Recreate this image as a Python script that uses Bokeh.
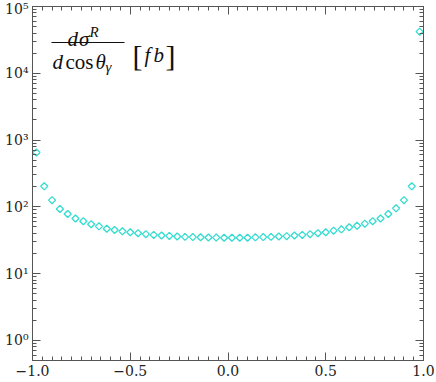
import math
from bokeh.plotting import figure
from bokeh.models import (LinearAxis, LogAxis, FixedTicker, CustomJSTickFormatter,
                          Range1d)
from bokeh.core.properties import value
from bokeh.embed import file_html
from bokeh.resources import INLINE

# ---- data ----
cos_theta = [round(-0.98 + 0.04 * i, 2) for i in range(50)]
dsigma = [650, 203, 126, 93, 78, 67, 61, 55, 51, 47,
          45, 43, 41.7, 40.3, 39, 38, 37.2, 36.7, 35.9, 35.5,
          35.2, 35.0, 34.7, 34.6, 34.5,
          34.5, 34.5, 34.5, 34.9, 35.2, 35.5, 35.9, 36.4, 37.2, 38,
          39, 40.3, 41.7, 44, 46, 49.4, 52, 56, 61, 67,
          78, 95, 126, 203, 42000]

x_ticks = [-1.0, -0.5, 0.0, 0.5, 1.0]
x_tick_labels = ["\u22121.0", "\u22120.5", "0.0", "0.5", "1.0"]
x_minor = [round(-1.0 + 0.05 * i, 2) for i in range(41)]
y_ticks = [1, 10, 100, 1000, 10000, 100000]
y_tick_labels = ["10\u2070", "10\u00b9", "10\u00b2", "10\u00b3", "10\u2074", "10\u2075"]
y_minor = [m * 10 ** k for k in range(-1, 5) for m in range(2, 10)]

X0, X1 = -1.0, 1.0
Y0, Y1 = 0.5, 1e5

W, H = 436, 380
BL, BR, BT, BB = 32, 13, 6, 20
FW, FH = W - BL - BR, H - BT - BB

AX = "#555555"
FONT = "'DejaVu Serif', serif"
TFONT = "'Liberation Serif', serif"

p = figure(width=W, height=H, output_backend="svg", toolbar_location=None,
           y_axis_type="log", x_range=Range1d(X0, X1), y_range=Range1d(Y0, Y1),
           min_border_left=BL, min_border_right=BR, min_border_top=BT,
           min_border_bottom=BB, background_fill_color="white",
           border_fill_color="white")
p.grid.visible = False
p.outline_line_color = AX
p.outline_line_width = 1

xfmt = CustomJSTickFormatter(args=dict(t=x_ticks, l=x_tick_labels), code="""
const i = t.findIndex(v => Math.abs(v - tick) < 1e-9); return i >= 0 ? l[i] : '';""")
yfmt = CustomJSTickFormatter(args=dict(t=y_ticks, l=y_tick_labels), code="""
const i = t.findIndex(v => Math.abs(v - tick) < 1e-6 * v); return i >= 0 ? l[i] : '';""")
blank = CustomJSTickFormatter(code="return '';")

def style(ax, fmt):
    ax.formatter = fmt
    ax.axis_line_color = AX
    ax.major_tick_line_color = AX
    ax.minor_tick_line_color = AX
    ax.major_tick_in = 8
    ax.major_tick_out = 0
    ax.minor_tick_in = 4
    ax.minor_tick_out = 0
    ax.major_label_text_font = FONT
    ax.major_label_text_font_size = "14px"
    ax.major_label_text_color = "#222222"
    ax.major_label_standoff = 4

xt = FixedTicker(ticks=x_ticks, minor_ticks=x_minor)
yt = FixedTicker(ticks=y_ticks, minor_ticks=y_minor)

p.xaxis[0].ticker = xt
style(p.xaxis[0], xfmt)
p.yaxis[0].ticker = yt
style(p.yaxis[0], yfmt)

top = LinearAxis(ticker=xt)
style(top, blank)
top.major_label_standoff = 0
p.add_layout(top, "above")
right = LogAxis(ticker=yt)
style(right, blank)
right.major_label_standoff = 0
p.add_layout(right, "right")

p.scatter(cos_theta, dsigma, marker="square", angle=math.pi / 4, size=5,
          fill_color=None, line_color="#35dcd0", line_width=1.3)

# ---- title (fraction), positioned in frame pixels (from top-left of frame) ----
def dx(px):
    return X0 + (X1 - X0) * px / FW

def dy(py):
    ly = math.log10(Y1) - (math.log10(Y1) - math.log10(Y0)) * py / FH
    return 10 ** ly

def txt(px, py, s, size=21, italic=True, align="left"):
    p.text(x=[dx(px)], y=[dy(py)], text=[s], text_font=value(TFONT),
           text_font_style="italic" if italic else "normal",
           text_font_size=f"{size}px", text_color="#111111",
           text_align=align, text_baseline="alphabetic")

# numerator
txt(35, 32.7, "d")
txt(46.5, 32.7, "\u03c3")
txt(57, 25, "R", size=15)
# fraction bar
p.line(x=[dx(19), dx(92)], y=[dy(36), dy(36)], line_color="#111111", line_width=1.1)
# denominator
txt(20, 55.3, "d")
txt(33, 55.3, "cos", italic=False)
txt(63, 55.3, "\u03b8")
txt(73, 60, "\u03b3", size=15)
# [fb]
txt(100, 48.5, "[", size=30, italic=False)
txt(112, 48, "f")
txt(121, 48, "b")
txt(133, 48.5, "]", size=30, italic=False)

open("out.html", "w").write(file_html(p, INLINE))
